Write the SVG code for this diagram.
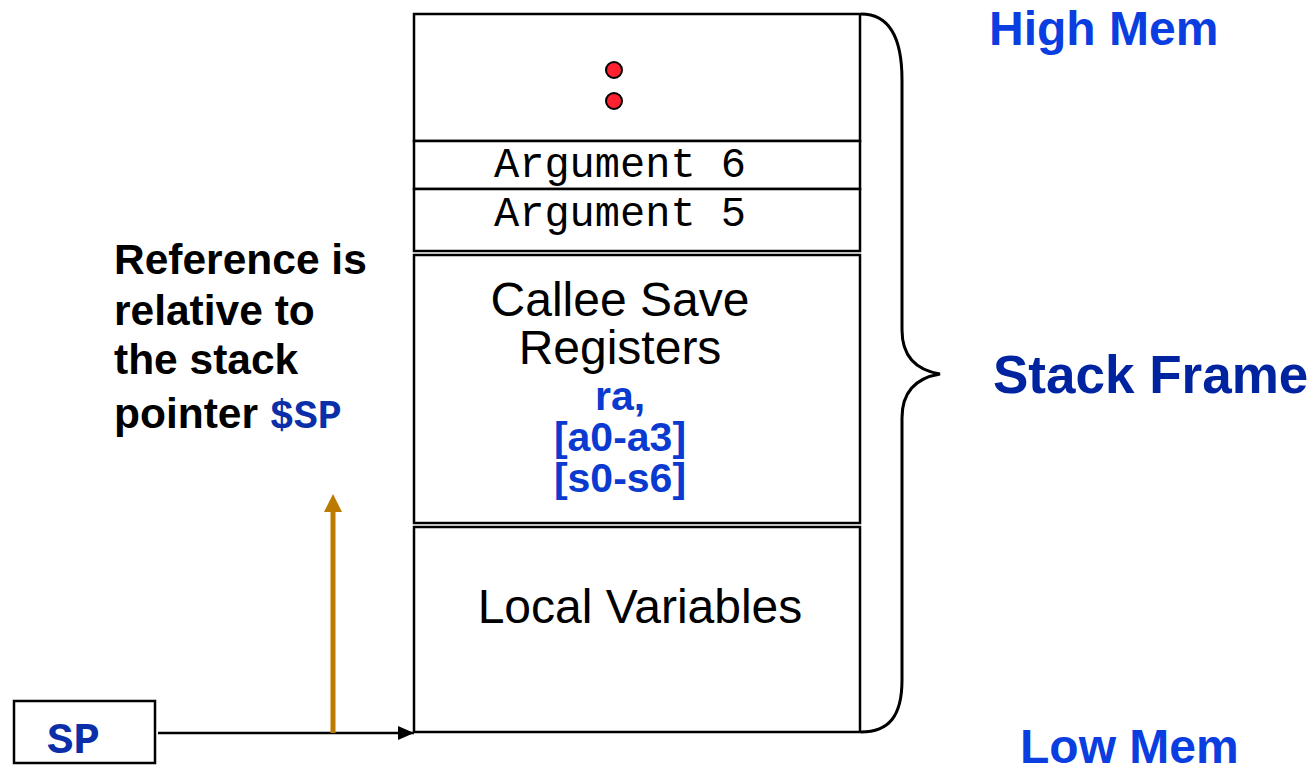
<svg xmlns="http://www.w3.org/2000/svg" width="1314" height="766" viewBox="0 0 1314 766">
<style>
.box{fill:#fff;stroke:#000;stroke-width:2.5}
.mono{font-family:"Liberation Mono","Courier New",monospace;fill:#000}
.sans{font-family:"Liberation Sans",Arial,sans-serif;fill:#000}
.bold{font-weight:bold}
.reg{fill:#0a3ad0}
.hm{fill:#0a3ee0}
.sf{fill:#0024a0}
.sp{fill:#0a2fa8}
</style>
<defs>
<marker id="ahBlack" markerWidth="16" markerHeight="14" refX="16" refY="7" orient="auto" markerUnits="userSpaceOnUse" viewBox="0 0 16 14">
<path d="M0,0 L16,7 L0,14 z" fill="#000"/>
</marker>
</defs>
<g id="frame">
<rect id="top-cell" class="box" x="414" y="14" width="446" height="127"/>
<circle cx="614" cy="70" r="8" fill="#ff2030" stroke="#000" stroke-width="2"/>
<circle cx="614" cy="101" r="8" fill="#ff2030" stroke="#000" stroke-width="2"/>
</g>
<g id="arg6">
<rect class="box" x="414" y="141" width="446" height="48"/>
<text class="mono" x="620" y="177" font-size="42" text-anchor="middle">Argument 6</text>
</g>
<g id="arg5">
<rect class="box" x="414" y="189" width="446" height="62"/>
<text class="mono" x="620" y="226" font-size="42" text-anchor="middle">Argument 5</text>
</g>
<g id="callee">
<rect class="box" x="414" y="255" width="446" height="268"/>
<text class="sans" x="620" y="316" font-size="48" text-anchor="middle">Callee Save</text>
<text class="sans" x="620" y="364" font-size="48" text-anchor="middle">Registers</text>
<text class="sans bold reg" x="620" y="410" font-size="41" text-anchor="middle">ra,</text>
<text class="sans bold reg" x="620" y="451" font-size="41" text-anchor="middle">[a0-a3]</text>
<text class="sans bold reg" x="620" y="492" font-size="41" text-anchor="middle">[s0-s6]</text>
</g>
<g id="locals">
<rect class="box" x="414" y="527" width="446" height="205"/>
<text class="sans" x="640" y="623" font-size="48" text-anchor="middle">Local Variables</text>
</g>
<g id="brace">
<path d="M861 14 C889 14 902 38 902 80 L902 330 C902 356 916 370 940 374 C916 378 902 392 902 418 L902 680 C902 716 889 732 861 732" fill="none" stroke="#000" stroke-width="3"/>
</g>
<g id="labels">
<text class="sans bold hm" x="989" y="45" font-size="48">High Mem</text>
<text class="sans bold sf" x="993" y="393" font-size="53">Stack Frame</text>
<text class="sans bold hm" x="1020" y="763" font-size="48">Low Mem</text>
</g>
<g id="note">
<text class="sans bold" x="114" y="274" font-size="42.5">Reference is</text>
<text class="sans bold" x="114" y="325" font-size="42.5">relative to</text>
<text class="sans bold" x="114" y="374" font-size="42.5">the stack</text>
<text class="sans bold" x="114" y="428" font-size="42.5">pointer <tspan class="mono bold sp" font-size="40">$SP</tspan></text>
</g>
<g id="sp-register">
<rect class="box" x="14" y="701" width="141" height="62"/>
<text class="mono bold sp" x="47" y="753" font-size="44">SP</text>
</g>
<g id="connectors">
<line x1="158" y1="733" x2="414" y2="733" stroke="#000" stroke-width="2.5" marker-end="url(#ahBlack)"/>
<line x1="333" y1="733" x2="333" y2="510" stroke="#bb7a00" stroke-width="5"/>
<path d="M324 512 L333 494 L342 512 z" fill="#bb7a00"/>
</g>
</svg>
